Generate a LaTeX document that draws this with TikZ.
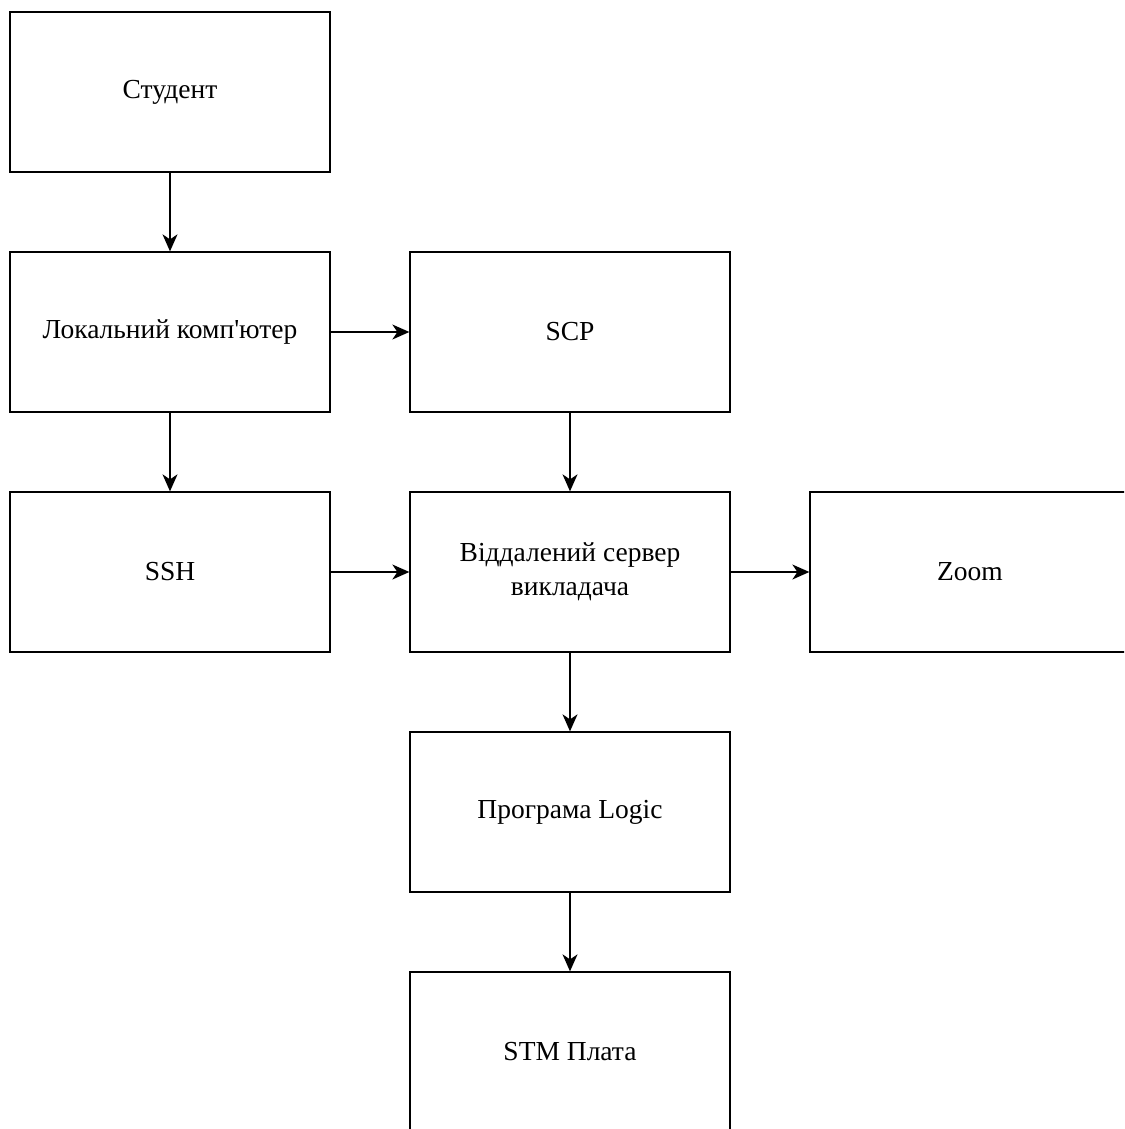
\documentclass[tikz,border=0pt]{standalone}
\usepackage{fontspec}
\setmainfont{Liberation Serif}[Ligatures=TeXOff]
\usetikzlibrary{arrows.meta}
\begin{document}
\begin{tikzpicture}[x=1pt,y=-1pt,
  box/.style={draw=black,line width=1.3pt,minimum width=320pt,minimum height=160pt,inner sep=0pt,align=center,font=\fontsize{27.5}{34}\selectfont},
  conn/.style={draw=black,line width=1.3pt,-{Stealth[length=17pt,width=15pt,inset=5pt]}}]
\useasboundingbox (0,0) rectangle (1124,1129);
\begin{scope}
\clip (0,0) rectangle (1124,1129);
\node[box] (student) at (170,92) {Студент};
\node[box] (local) at (170,332) {Локальний комп'ютер};
\node[box] (scp) at (570,332) {SCP};
\node[box] (ssh) at (170,572) {SSH};
\node[box] (server) at (570,572) {Віддалений сервер\\викладача};
\node[box] (zoom) at (970,572) {Zoom};
\node[box] (logic) at (570,812) {Програма Logic};
\node[box] (stm) at (570,1052) {STM Плата};
\draw[conn] (student) -- (local);
\draw[conn] (local) -- (scp);
\draw[conn] (local) -- (ssh);
\draw[conn] (scp) -- (server);
\draw[conn] (ssh) -- (server);
\draw[conn] (server) -- (zoom);
\draw[conn] (server) -- (logic);
\draw[conn] (logic) -- (stm);
\end{scope}
\end{tikzpicture}
\end{document}
